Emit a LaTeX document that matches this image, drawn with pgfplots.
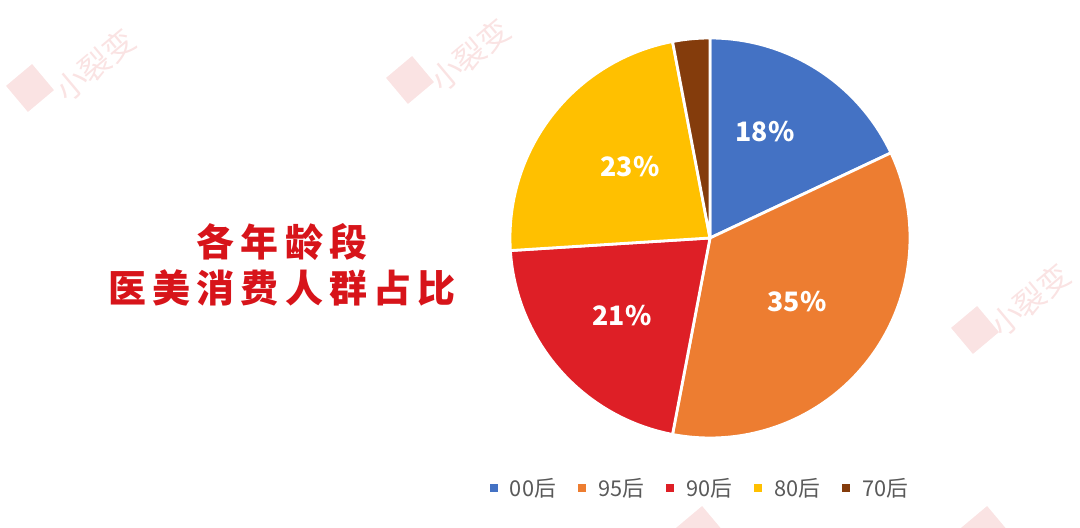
\documentclass[border=0pt]{standalone}
\usepackage{pgfplots}
\pgfplotsset{compat=1.18}
\usepackage{fontspec}
\setmainfont{Noto Sans CJK SC}
\newfontfamily\titlefont[LetterSpace=16]{Noto Sans CJK SC}
\definecolor{c00}{HTML}{4472C4}
\definecolor{c95}{HTML}{ED7D31}
\definecolor{c90}{HTML}{DE1F26}
\definecolor{c80}{HTML}{FFC000}
\definecolor{c70}{HTML}{843C0C}
\definecolor{titlered}{HTML}{D7141A}
\definecolor{leggray}{HTML}{595959}
\definecolor{wm}{HTML}{FAE3E3}
% shares (percent), clockwise from 12 o'clock
\def\pA{18}\def\pB{35}\def\pC{21}\def\pD{23}\def\pE{3}
\pgfmathsetmacro\aA{90}
\pgfmathsetmacro\aB{\aA-3.6*\pA}
\pgfmathsetmacro\aC{\aB-3.6*\pB}
\pgfmathsetmacro\aD{\aC-3.6*\pC}
\pgfmathsetmacro\aE{\aD-3.6*\pD}
\pgfmathsetmacro\aF{\aE-3.6*\pE}
\def\cx{710}\def\cy{290}\def\R{200}
\tikzset{wmtext/.style={text=wm, rotate=40, font=\fontsize{22}{22}\selectfont}}
\begin{document}
\begin{tikzpicture}
\begin{axis}[
  width=27cm, height=13.2cm, scale only axis,
  xmin=0, xmax=1080, ymin=0, ymax=528,
  axis lines=none, clip=false,
  legend columns=5,
  legend style={draw=none, fill=none, at={(axis cs:699,40)}, anchor=center,
    font=\fontsize{15.5}{16}\selectfont, text=leggray,
    /tikz/every odd column/.append style={column sep=0.15cm},
    /tikz/every even column/.append style={column sep=0.41cm},
    nodes={inner sep=2pt}},
  legend image code/.code={\fill[#1] (0cm,-0.14cm) rectangle (0.28cm,0.14cm);},
]
% watermarks
\node[wmtext] at (axis cs:95,463) {小裂变};
\node[wmtext] at (axis cs:470,473) {小裂变};
\node[wmtext] at (axis cs:1030,228) {小裂变};
\fill[wm, rotate around={40:(axis cs:30,440)}] (axis cs:13,423) rectangle (axis cs:47,457);
\fill[wm, rotate around={40:(axis cs:410,448)}] (axis cs:393,431) rectangle (axis cs:427,465);
\fill[wm, rotate around={40:(axis cs:975,198)}] (axis cs:958,181) rectangle (axis cs:992,215);
\fill[wm, rotate around={40:(axis cs:985,-2)}] (axis cs:968,-19) rectangle (axis cs:1002,15);
\fill[wm, rotate around={40:(axis cs:700,-2)}] (axis cs:683,-19) rectangle (axis cs:717,15);
\addplot[fill=c00, draw=white, line width=2pt, line join=round, domain=\aB:\aA, samples=80]
  ({\cx+\R*cos(x)},{\cy+\R*sin(x)}) -- (axis cs:\cx,\cy) -- cycle;
\addlegendentry{00后}
\addplot[fill=c95, draw=white, line width=2pt, line join=round, domain=\aC:\aB, samples=120]
  ({\cx+\R*cos(x)},{\cy+\R*sin(x)}) -- (axis cs:\cx,\cy) -- cycle;
\addlegendentry{95后}
\addplot[fill=c90, draw=white, line width=2pt, line join=round, domain=\aD:\aC, samples=80]
  ({\cx+\R*cos(x)},{\cy+\R*sin(x)}) -- (axis cs:\cx,\cy) -- cycle;
\addlegendentry{90后}
\addplot[fill=c80, draw=white, line width=2pt, line join=round, domain=\aE:\aD, samples=80]
  ({\cx+\R*cos(x)},{\cy+\R*sin(x)}) -- (axis cs:\cx,\cy) -- cycle;
\addlegendentry{80后}
\addplot[fill=c70, draw=white, line width=2pt, line join=round, domain=\aF:\aE, samples=20]
  ({\cx+\R*cos(x)},{\cy+\R*sin(x)}) -- (axis cs:\cx,\cy) -- cycle;
\addlegendentry{70后}
% percentage labels
\node[text=white, font=\bfseries\fontsize{19}{19}\selectfont] at (axis cs:765,396) {18\%};
\node[text=white, font=\bfseries\fontsize{19}{19}\selectfont] at (axis cs:797,226) {35\%};
\node[text=white, font=\bfseries\fontsize{19}{19}\selectfont] at (axis cs:622,212) {21\%};
\node[text=white, font=\bfseries\fontsize{19}{19}\selectfont] at (axis cs:630,361) {23\%};
% title
\node[align=center, text=titlered, font=\titlefont\bfseries\fontsize{27}{33}\selectfont] at (axis cs:282,263) {各年龄段\\医美消费人群占比};
\end{axis}
\pgfresetboundingbox
\useasboundingbox (current axis.south west) rectangle (current axis.north east);
\end{tikzpicture}
\end{document}
